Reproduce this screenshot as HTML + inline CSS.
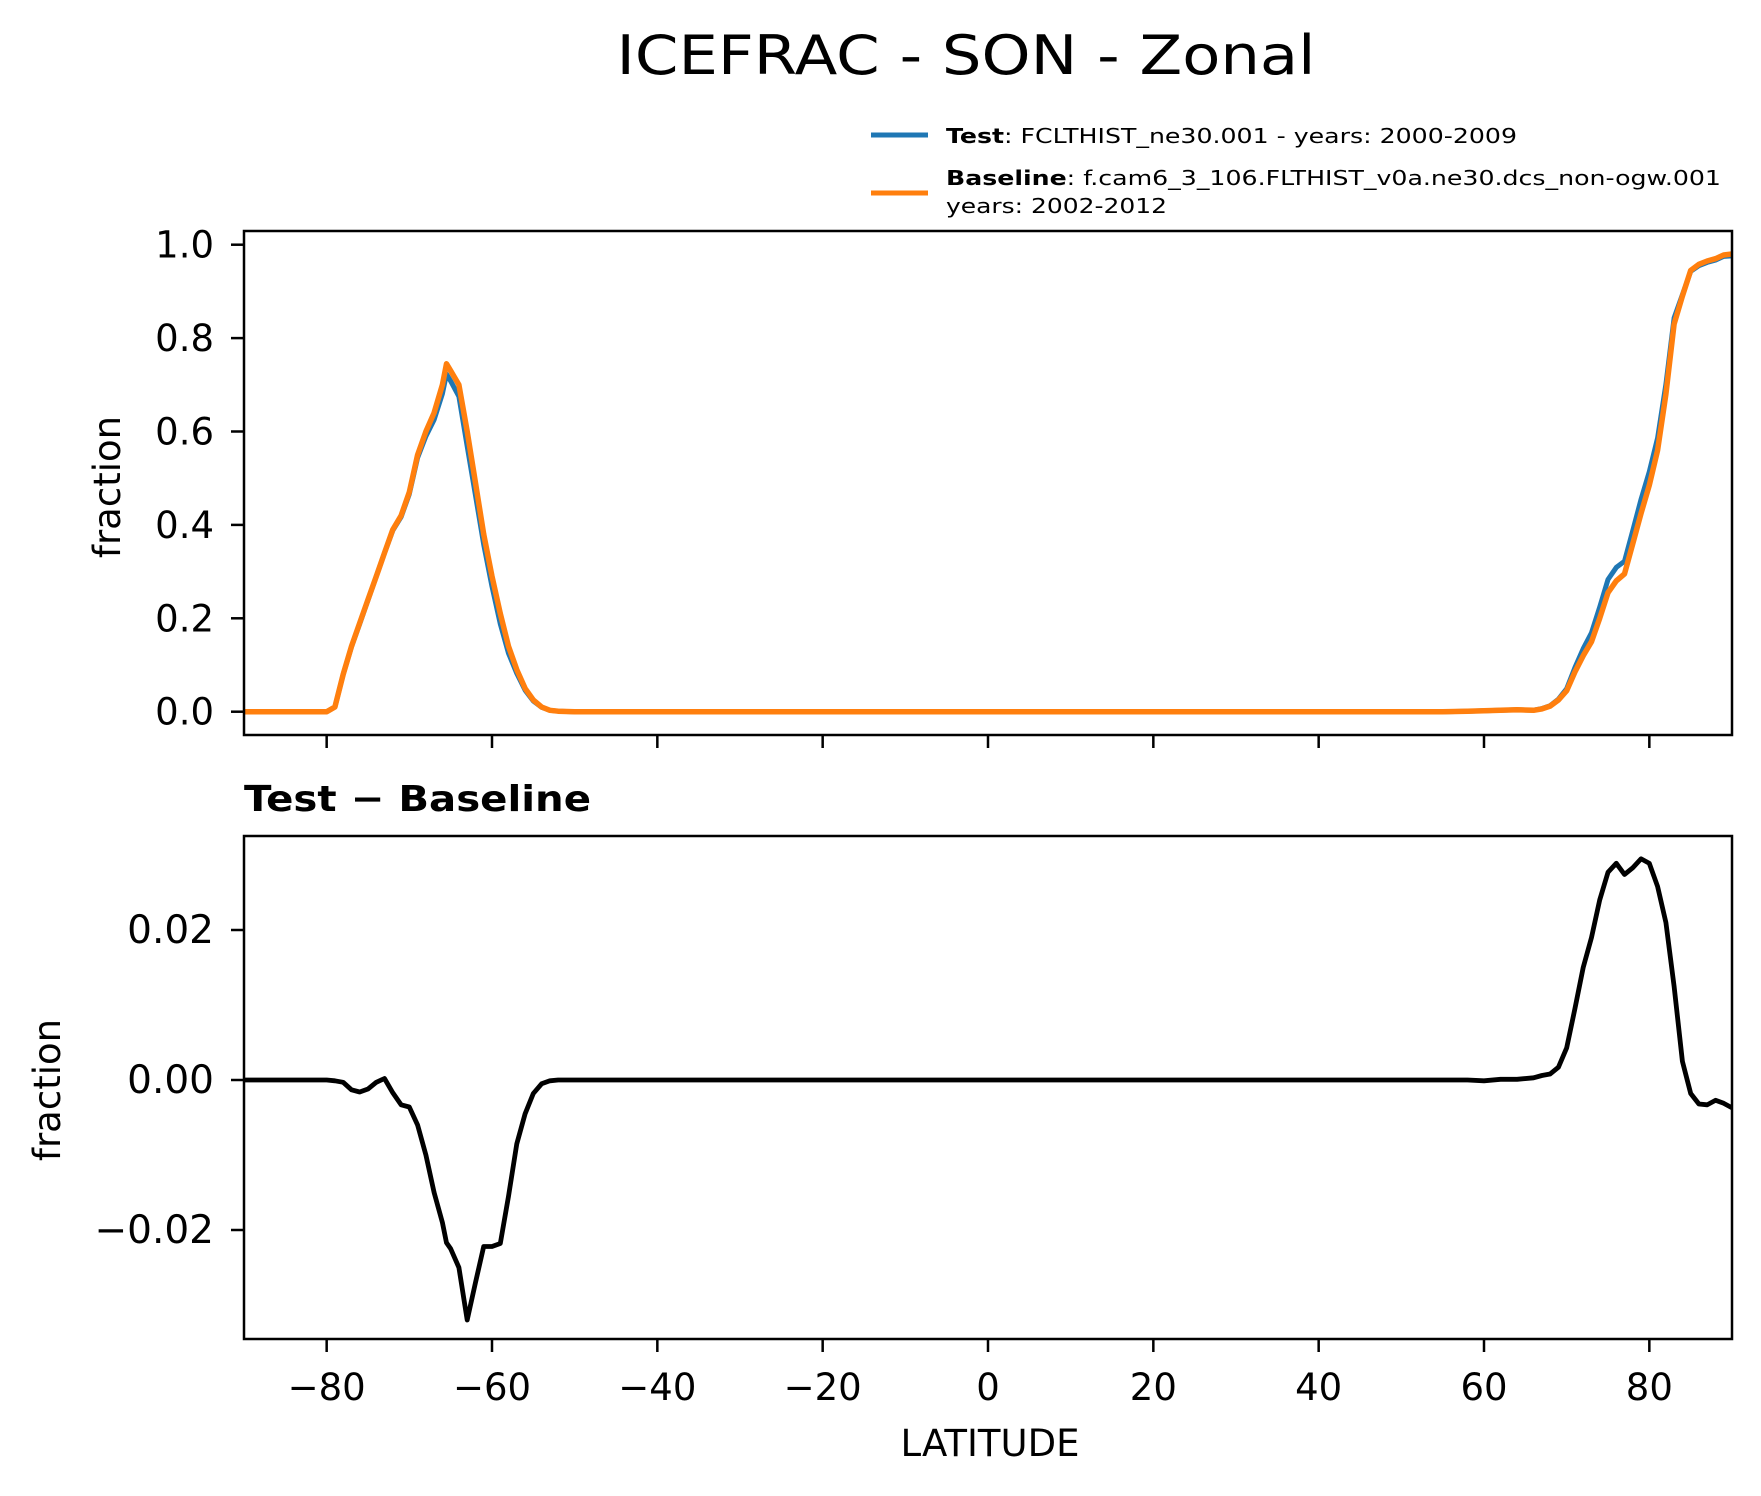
<!DOCTYPE html>
<html><head><meta charset="utf-8">
<style>
html,body{margin:0;padding:0;background:#fff;}
svg{display:block;}
text{font-family:"DejaVu Sans","Liberation Sans",sans-serif;fill:#000;}
</style></head>
<body>
<svg id="chart" width="1761" height="1496" viewBox="0 0 1761 1496" xmlns="http://www.w3.org/2000/svg">
<rect width="1761" height="1496" fill="#fff"/>
<text x="966" y="74" font-size="54" text-anchor="middle" textLength="699" lengthAdjust="spacingAndGlyphs">ICEFRAC - SON - Zonal</text>
<g>
<line x1="871" y1="135" x2="928" y2="135" stroke="#1f77b4" stroke-width="5"/>
<text x="946" y="143" font-size="20" textLength="571" lengthAdjust="spacingAndGlyphs"><tspan font-weight="bold">Test</tspan>: FCLTHIST_ne30.001 - years: 2000-2009</text>
<line x1="871" y1="193" x2="928" y2="193" stroke="#ff7f0e" stroke-width="5"/>
<text x="946" y="185" font-size="20" textLength="775" lengthAdjust="spacingAndGlyphs"><tspan font-weight="bold">Baseline</tspan>: f.cam6_3_106.FLTHIST_v0a.ne30.dcs_non-ogw.001</text>
<text x="946" y="213" font-size="20" textLength="221" lengthAdjust="spacingAndGlyphs">years: 2002-2012</text>
</g>
<g id="top"></g>
<g id="bot"></g>
<text transform="translate(120,487) rotate(-90)" font-size="37" text-anchor="middle">fraction</text>
<text x="244" y="811" font-size="36" font-weight="bold" textLength="347" lengthAdjust="spacingAndGlyphs">Test − Baseline</text>
<text transform="translate(60,1090) rotate(-90)" font-size="37" text-anchor="middle">fraction</text>
<text x="990" y="1456" font-size="37" text-anchor="middle">LATITUDE</text>
</svg>
<script>
const lats = [-90,-85,-80,-79,-78,-77,-76,-75,-74,-73,-72,-71,-70,-69,-68,-67,-66,-65.5,-65,-64,-63,-62,-61,-60,-59,-58,-57,-56,-55,-54,-53,-52,-50,-40,-20,0,20,40,50,55,58,60,62,64,66,67,68,69,70,71,72,73,74,75,76,77,78,79,80,81,82,83,84,85,86,87,88,89,90];
const baseline = [0,0,0,0.01,0.08,0.14,0.19,0.24,0.29,0.34,0.39,0.42,0.47,0.55,0.60,0.64,0.70,0.745,0.73,0.70,0.60,0.49,0.38,0.29,0.21,0.14,0.09,0.05,0.025,0.01,0.003,0.001,0,0,0,0,0,0,0,0,0.001,0.002,0.003,0.004,0.003,0.006,0.012,0.025,0.045,0.085,0.12,0.15,0.2,0.255,0.28,0.295,0.36,0.425,0.485,0.56,0.68,0.83,0.89,0.945,0.958,0.965,0.97,0.978,0.98];
const test = [0,0,0,0.01,0.08,0.139,0.188,0.239,0.29,0.34,0.388,0.417,0.466,0.544,0.59,0.625,0.681,0.723,0.708,0.675,0.568,0.463,0.358,0.268,0.188,0.125,0.082,0.046,0.023,0.0095,0.003,0.001,0,0,0,0,0,0,0,0,0.001,0.0019,0.0031,0.0041,0.0033,0.0066,0.0128,0.0267,0.0493,0.0945,0.135,0.169,0.224,0.283,0.309,0.322,0.388,0.455,0.514,0.586,0.701,0.843,0.893,0.943,0.955,0.962,0.967,0.975,0.976];
const diff = [0,0,0,-0.0001,-0.0003,-0.0013,-0.0016,-0.0012,-0.0003,0.0002,-0.0017,-0.0033,-0.0036,-0.006,-0.010,-0.015,-0.019,-0.0217,-0.0225,-0.025,-0.032,-0.027,-0.0222,-0.0222,-0.0218,-0.0155,-0.0085,-0.0045,-0.0018,-0.0005,-0.0001,0,0,0,0,0,0,0,0,0,0,-0.0001,0.0001,0.0001,0.0003,0.0006,0.0008,0.0017,0.0043,0.0095,0.015,0.019,0.024,0.0277,0.0289,0.0274,0.0283,0.0295,0.0289,0.0258,0.021,0.0125,0.0025,-0.0018,-0.0032,-0.0033,-0.0027,-0.0031,-0.0037];
const xTicks = [-80,-60,-40,-20,0,20,40,60,80];
const xTickLabels = ["−80","−60","−40","−20","0","20","40","60","80"];
const topTicks = [0,0.2,0.4,0.6,0.8,1.0];
const topTickLabels = ["0.0","0.2","0.4","0.6","0.8","1.0"];
const botTicks = [-0.02,0,0.02];
const botTickLabels = ["−0.02","0.00","0.02"];

const NS="http://www.w3.org/2000/svg";
const L=244,R=1732;
const xs = v => L + (v+90)/180*(R-L);
const T1=231,B1=735, yTop = v => 711.7 - v*467;
const T2=836,B2=1339, yBot = v => 1080 - v*7500;
function el(tag,attrs,parent){const e=document.createElementNS(NS,tag);for(const k in attrs)e.setAttribute(k,attrs[k]);parent.appendChild(e);return e;}
function path(vals,yf){return vals.map((v,i)=>(i?'L':'M')+xs(lats[i]).toFixed(1)+' '+yf(v).toFixed(1)).join(' ');}

function panel(g,T,B,yf,ticks,labels,series,showXLabels,prefix,fs){
  const clip=el('clipPath',{id:prefix+'clip'},g);
  el('rect',{x:L,y:T,width:R-L,height:B-T},clip);
  series.forEach(s=>{
    const p=el('path',{d:path(s.vals,yf),fill:'none',stroke:s.color,'stroke-width':s.w,'stroke-linejoin':'round','clip-path':'url(#'+prefix+'clip)'},g);
    
    
  });
  const frame=el('rect',{x:L,y:T,width:R-L,height:B-T,fill:'none',stroke:'#000','stroke-width':2.5},g);
  
  
  ticks.forEach((t,i)=>{
    const y=yf(t);
    const tk=el('line',{x1:L-13,x2:L,y1:y,y2:y,stroke:'#000','stroke-width':2.5},g);
    
    
    const tx=el('text',{x:L-30,y:y+13,'font-size':fs,'text-anchor':'end'},g);
    tx.textContent=labels[i];
    
    
  });
  xTicks.forEach((t,i)=>{
    const x=xs(t);
    const tk=el('line',{x1:x,x2:x,y1:B,y2:B+13,stroke:'#000','stroke-width':2.5},g);
    
    
    if(showXLabels){
      const tx=el('text',{x:x,y:B+61,'font-size':37,'text-anchor':'middle'},g);
      tx.textContent=xTickLabels[i];
      
      
    }
  });
}
panel(document.getElementById('top'),T1,B1,yTop,topTicks,topTickLabels,
  [{vals:test,color:'#1f77b4',w:5,name:'test-line'},{vals:baseline,color:'#ff7f0e',w:5.5,name:'baseline-line'}],false,'top-',37);
panel(document.getElementById('bot'),T2,B2,yBot,botTicks,botTickLabels,
  [{vals:diff,color:'#000',w:4.8,name:'difference-line'}],true,'bot-',39);
</script>
</body></html>
